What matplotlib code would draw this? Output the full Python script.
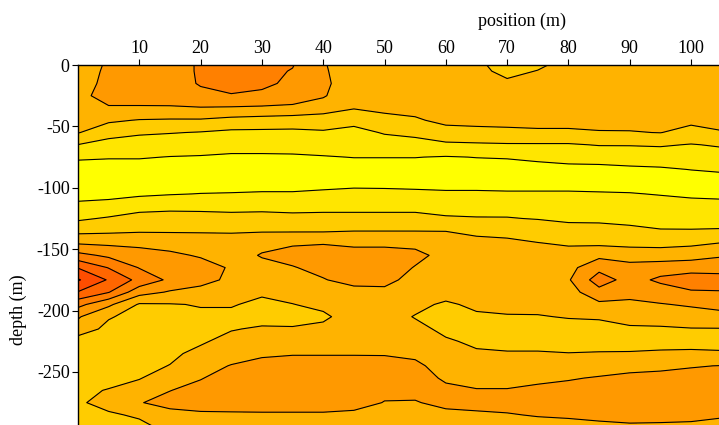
import matplotlib
matplotlib.use("Agg")
import matplotlib.pyplot as plt
import numpy as np

plt.rcParams.update({
    "font.family": "Liberation Serif",
    "font.size": 13,
    "axes.unicode_minus": False,
})

# grid of the section: positions (m) and depths (m, negative down)
position = [0, 5, 10, 15, 20, 25, 30, 35, 40, 45, 50,
            55, 60, 65, 70, 75, 80, 85, 90, 95, 100, 105]
depth = [0, -5, -15, -25, -35, -45, -55, -65, -75, -85, -95,
         -105, -115, -125, -135, -145, -155, -165, -175, -185, -195,
         -205, -215, -225, -235, -245, -255, -265, -275, -285, -295]

# one depth profile per position (values in contour-class units)
profiles = [
    [3.1, 3.1, 3.1, 3.2, 3.0, 2.85, 2.55, 1.48, 0.6, 0.2, 0.1, 0.2, 0.7, 1.35, 2.2, 3.4, 4.8, 6.45, 7.6, 6.45, 4.8, 3.6, 3.1, 2.0, 2.0, 2.0, 2.1, 2.3, 2.4, 2.3, 2.2],
    [3.6, 3.65, 3.75, 3.9, 3.4, 2.65, 1.9, 1.1, 0.55, 0.2, 0.05, 0.25, 0.8, 1.6, 2.3, 3.3, 4.3, 5.45, 6.4, 5.55, 3.7, 2.6, 2.2, 2.1, 2.0, 2.05, 2.2, 2.55, 2.75, 2.4, 2.2],
    [3.9, 3.9, 3.9, 3.9, 3.4, 2.45, 1.65, 0.95, 0.55, 0.2, 0.05, 0.35, 1.1, 1.9, 2.4, 3.2, 4.0, 4.45, 5.2, 3.9, 2.4, 2.1, 2.05, 2.1, 2.15, 2.3, 2.45, 2.9, 3.45, 2.6, 2.3],
    [3.95, 3.95, 3.95, 3.95, 3.4, 2.4, 1.55, 0.9, 0.48, 0.15, 0.05, 0.45, 1.2, 1.95, 2.4, 3.1, 3.7, 4.1, 4.3, 3.4, 2.45, 2.2, 2.1, 2.2, 2.35, 2.52, 3.0, 3.48, 3.8, 3.2, 2.7],
    [4.65, 4.65, 4.6, 4.2, 3.45, 2.4, 1.45, 0.85, 0.45, 0.15, 0.05, 0.52, 1.2, 1.9, 2.4, 3.0, 3.4, 3.9, 3.9, 3.1, 2.55, 2.35, 2.25, 2.4, 2.7, 3.1, 3.45, 3.8, 4.0, 3.3, 3.0],
    [4.8, 4.8, 4.75, 4.45, 3.4, 2.2, 1.3, 0.75, 0.4, 0.15, 0.05, 0.55, 1.2, 1.8, 2.4, 2.9, 3.2, 3.4, 3.25, 2.9, 2.55, 2.35, 2.45, 2.75, 3.05, 3.55, 3.9, 4.1, 4.1, 3.3, 3.1],
    [4.75, 4.75, 4.7, 4.3, 3.35, 2.1, 1.3, 0.75, 0.4, 0.15, 0.05, 0.6, 1.25, 1.8, 2.4, 3.3, 3.55, 3.3, 3.1, 2.6, 2.35, 2.2, 2.6, 3.0, 3.4, 3.7, 4.0, 4.2, 4.2, 3.3, 3.0],
    [4.55, 4.45, 4.3, 4.0, 3.3, 2.0, 1.3, 0.8, 0.4, 0.15, 0.05, 0.6, 1.2, 1.75, 2.4, 3.4, 3.8, 3.45, 3.1, 2.8, 2.48, 2.3, 2.55, 2.95, 3.45, 3.8, 4.1, 4.2, 4.2, 3.3, 3.0],
    [3.6, 3.65, 3.75, 3.6, 3.0, 1.95, 1.4, 0.9, 0.45, 0.15, 0.0, 0.75, 1.25, 1.75, 2.4, 3.45, 3.9, 3.75, 3.45, 3.1, 2.7, 2.35, 2.7, 2.95, 3.45, 3.8, 4.1, 4.2, 4.2, 3.3, 3.0],
    [2.8, 2.8, 2.8, 2.75, 2.55, 1.9, 1.1, 0.85, 0.52, 0.15, 0.0, 0.95, 1.2, 1.8, 2.48, 3.3, 3.9, 4.0, 3.8, 3.2, 3.0, 2.9, 3.0, 3.1, 3.45, 3.8, 4.0, 4.1, 4.0, 3.2, 3.0],
    [2.8, 2.8, 2.8, 2.8, 2.65, 2.3, 1.6, 0.9, 0.52, 0.15, 0.0, 0.9, 1.25, 1.75, 2.48, 3.3, 3.9, 4.0, 3.75, 3.3, 3.0, 2.9, 3.0, 3.1, 3.45, 3.75, 3.9, 3.8, 3.45, 3.3, 3.0],
    [2.8, 2.8, 2.8, 2.8, 2.75, 2.4, 1.8, 1.05, 0.52, 0.15, 0.0, 0.8, 1.25, 1.75, 2.48, 3.25, 3.75, 3.45, 3.2, 3.0, 2.75, 2.45, 2.75, 3.0, 3.3, 3.7, 3.8, 3.7, 3.45, 3.2, 3.0],
    [2.8, 2.8, 2.8, 2.8, 2.8, 2.7, 2.2, 1.3, 0.45, 0.15, 0.0, 0.7, 1.15, 1.6, 2.48, 2.9, 3.2, 3.05, 3.0, 2.9, 2.35, 2.2, 2.3, 2.6, 2.9, 3.1, 3.4, 3.65, 3.7, 3.3, 3.0],
    [2.6, 2.65, 2.75, 2.8, 2.8, 2.7, 2.3, 1.35, 0.52, 0.15, 0.0, 0.7, 1.15, 1.55, 2.3, 2.75, 3.0, 3.0, 2.95, 2.85, 2.7, 2.35, 2.2, 2.35, 2.6, 2.95, 3.2, 3.55, 3.7, 3.4, 3.1],
    [2.3, 2.35, 2.6, 2.8, 2.8, 2.7, 2.35, 1.4, 0.55, 0.2, 0.0, 0.65, 1.1, 1.55, 2.2, 2.7, 2.9, 2.95, 2.95, 2.85, 2.7, 2.45, 2.2, 2.3, 2.55, 2.9, 3.2, 3.55, 3.75, 3.45, 3.15],
    [2.4, 2.52, 2.7, 2.8, 2.8, 2.7, 2.4, 1.4, 0.65, 0.25, 0.0, 0.65, 1.1, 1.45, 2.1, 2.52, 2.8, 2.9, 2.95, 2.9, 2.75, 2.45, 2.2, 2.3, 2.55, 2.95, 3.35, 3.65, 3.85, 3.55, 3.2],
    [2.7, 2.75, 2.8, 2.8, 2.8, 2.7, 2.4, 1.4, 0.75, 0.3, 0.0, 0.65, 1.05, 1.3, 1.9, 2.4, 2.8, 3.2, 3.4, 3.1, 2.8, 2.55, 2.2, 2.2, 2.52, 3.1, 3.45, 3.7, 3.85, 3.6, 3.25],
    [2.8, 2.8, 2.8, 2.8, 2.8, 2.75, 2.45, 1.55, 0.8, 0.3, 0.0, 0.6, 1.0, 1.3, 1.85, 2.3, 3.25, 4.2, 5.0, 4.15, 3.3, 2.6, 2.2, 2.2, 2.55, 3.2, 3.55, 3.8, 3.9, 3.65, 3.35],
    [2.8, 2.8, 2.8, 2.8, 2.8, 2.8, 2.45, 1.55, 0.9, 0.35, 0.05, 0.55, 0.95, 1.25, 1.7, 2.2, 3.1, 3.8, 4.1, 3.8, 3.3, 2.75, 2.4, 2.25, 2.55, 3.3, 3.65, 3.9, 3.95, 3.7, 3.4],
    [2.8, 2.8, 2.8, 2.8, 2.8, 2.8, 2.52, 1.6, 0.95, 0.4, 0.05, 0.45, 0.9, 1.2, 1.55, 2.2, 3.0, 4.0, 4.7, 4.0, 3.45, 2.85, 2.4, 2.25, 2.6, 3.35, 3.7, 3.95, 4.0, 3.75, 3.35],
    [2.8, 2.8, 2.8, 2.8, 2.8, 2.7, 2.2, 1.45, 1.0, 0.52, 0.1, 0.35, 0.8, 1.15, 1.55, 2.3, 3.1, 4.1, 5.0, 4.4, 3.6, 3.1, 2.45, 2.2, 2.65, 3.45, 3.75, 4.0, 4.05, 3.8, 3.25],
    [2.8, 2.8, 2.8, 2.8, 2.8, 2.75, 2.45, 1.6, 1.1, 0.6, 0.2, 0.35, 0.7, 1.05, 1.6, 2.52, 3.4, 4.1, 4.9, 4.45, 3.7, 3.3, 2.45, 2.2, 2.6, 3.52, 3.8, 4.0, 4.05, 3.6, 3.2],
]

levels = [-1, 0.5, 1.5, 2.5, 3.5, 4.5, 5.5, 6.5, 7.5, 9]
fill_colors = ["#FFFF00", "#FFE600", "#FFCC00", "#FFB300", "#FF9900",
               "#FF8000", "#FF6600", "#FF4D00", "#FF3300"]

x_ticks = [10, 20, 30, 40, 50, 60, 70, 80, 90, 100]
y_ticks = [0, -50, -100, -150, -200, -250]

field = np.array(profiles).T

fig = plt.figure(figsize=(7.19, 4.25), dpi=100)
ax = fig.add_axes([78 / 719, 0, 641 / 719, 360 / 425])

ax.contourf(position, depth, field, levels=levels, colors=fill_colors)
ax.contour(position, depth, field, levels=levels[1:-1], colors="black",
           linewidths=0.8)

ax.set_xlim(0, 104.56)
ax.set_ylim(-293.2, 0)

ax.xaxis.tick_top()
ax.xaxis.set_label_position("top")
ax.set_xticks(x_ticks)
ax.set_yticks(y_ticks)
ax.set_yticklabels([str(t) for t in y_ticks])
ax.tick_params(direction="out", length=4, width=0.8, pad=2)

ax.set_xlabel("position (m)")
ax.xaxis.set_label_coords((522 - 78) / 641, 1 + 39 / 360)
ax.set_ylabel("depth (m)")
ax.yaxis.set_label_coords(-51 / 641, (425 - 310) / 360)

ax.spines["right"].set_visible(False)
ax.spines["bottom"].set_visible(False)
for s in ("top", "left"):
    ax.spines[s].set_linewidth(1.0)

fig.savefig("out.png", dpi=100)
